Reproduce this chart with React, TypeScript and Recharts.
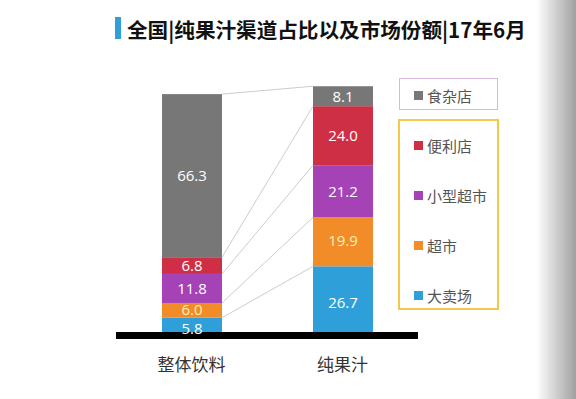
import { BarChart, Bar, XAxis, YAxis, LabelList, ReferenceLine } from "recharts";

const channels = ["整体饮料", "纯果汁"];

// stacked bottom -> top
const hypermarket = [5.8, 26.7];
const supermarket = [6.0, 19.9];
const minimarket = [11.8, 21.2];
const convenience = [6.8, 24.0];
const grocery = [66.3, 8.1];

const series = [
  { key: "hypermarket", name: "大卖场", values: hypermarket, color: "#2e9fd8", label: "#ffffff", dy: 4 },
  { key: "supermarket", name: "超市", values: supermarket, color: "#f28c28", label: "#fdf0b8", dy: -1 },
  { key: "minimarket", name: "小型超市", values: minimarket, color: "#a543b6", label: "#ffffff", dy: 0 },
  { key: "convenience", name: "便利店", values: convenience, color: "#cf2f44", label: "#ffffff", dy: 0 },
  { key: "grocery", name: "食杂店", values: grocery, color: "#777777", label: "#ffffff", dy: 0 },
];

const data = channels.map((name, i) => {
  const row: Record<string, string | number> = { name };
  series.forEach((s) => {
    row[s.key] = s.values[i];
  });
  return row;
});

// right-top corner of each segment in the first bar, used for the link lines
const corners: Record<string, { x: number; y: number }> = {};

function segmentShape(key: string, color: string) {
  return (props: any) => {
    const { x, y, width, height, index } = props;
    let link = null;
    if (index === 0) {
      corners[key] = { x: x + width, y };
    } else if (corners[key]) {
      link = (
        <line x1={corners[key].x} y1={corners[key].y} x2={x} y2={y} stroke="#cccccc" strokeWidth={1} />
      );
    }
    return (
      <g>
        <rect x={x} y={y} width={width} height={height} fill={color} />
        {link}
      </g>
    );
  };
}

const baseline = (p: any) => (
  <rect x={p.x1} y={p.y1} width={p.x2 - p.x1} height={7} fill="#000" />
);

const legendTop = [series[4]];
const legendBottom = [series[3], series[2], series[1], series[0]];

function LegendItem({ name, color }: { name: string; color: string }) {
  return (
    <div style={{ display: "flex", alignItems: "center", height: 20 }}>
      <span style={{ width: 9, height: 9, background: color, marginRight: 4 }} />
      <span>{name}</span>
    </div>
  );
}

export default function App() {
  const cjk = '"Noto Sans CJK SC", "Noto Sans", sans-serif';
  return (
    <div
      style={{
        position: "absolute",
        left: 0,
        top: 0,
        width: 576,
        height: 399,
        background: "#fff",
        overflow: "hidden",
        fontFamily: cjk,
      }}
    >
      <div style={{ position: "absolute", left: 115, top: 17, width: 6, height: 22, background: "#2e9fd8" }} />
      <div
        style={{
          position: "absolute",
          left: 127,
          top: 14,
          fontSize: 20.6,
          fontWeight: 700,
          color: "#111",
          lineHeight: "30px",
          whiteSpace: "nowrap",
        }}
      >
        全国|纯果汁渠道占比以及市场份额|17年6月
      </div>

      <div style={{ position: "absolute", left: 0, top: 0 }}>
        <BarChart
          width={576}
          height={399}
          data={data}
          margin={{ top: 86, right: 158, bottom: 27, left: 116 }}
        >
          <XAxis
            dataKey="name"
            axisLine={false}
            tickLine={false}
            height={40}
            tickMargin={21}
            tick={{ fill: "#333", fontSize: 17, fontFamily: cjk }}
          />
          <YAxis hide domain={[0, 100]} />
          {series.map((s) => (
            <Bar
              key={s.key}
              dataKey={s.key}
              name={s.name}
              stackId="a"
              barSize={60}
              fill={s.color}
              shape={segmentShape(s.key, s.color)}
              isAnimationActive={false}
            >
              <LabelList
                dataKey={s.key}
                position="center"
                formatter={(v: any) => Number(v).toFixed(1)}
                fill={s.label}
                fontSize={15}
                dy={s.dy}
                fontFamily='"Open Sans", sans-serif'
              />
            </Bar>
          ))}
          <ReferenceLine y={0} shape={baseline} ifOverflow="visible" />
        </BarChart>
      </div>

      <div
        style={{
          position: "absolute",
          left: 399,
          top: 78,
          width: 97,
          height: 30,
          border: "1.5px solid #d9b6e0",
          fontSize: 15,
          color: "#555",
          boxSizing: "content-box",
        }}
      >
        <div style={{ position: "absolute", left: 14, top: 6 }}>
          {legendTop.map((s) => (
            <LegendItem key={s.key} name={s.name} color={s.color} />
          ))}
        </div>
      </div>
      <div
        style={{
          position: "absolute",
          left: 398,
          top: 119,
          width: 97,
          height: 187,
          border: "2px solid #f3c94a",
          fontSize: 15,
          color: "#555",
        }}
      >
        <div style={{ position: "absolute", left: 14, top: 14 }}>
          {legendBottom.map((s) => (
            <div key={s.key} style={{ height: 50 }}>
              <LegendItem name={s.name} color={s.color} />
            </div>
          ))}
        </div>
      </div>

      <div
        style={{
          position: "absolute",
          right: 0,
          top: 0,
          width: 40,
          height: 399,
          background: "linear-gradient(to right, rgba(255,255,255,0), #a0a0a0)",
        }}
      />
    </div>
  );
}
